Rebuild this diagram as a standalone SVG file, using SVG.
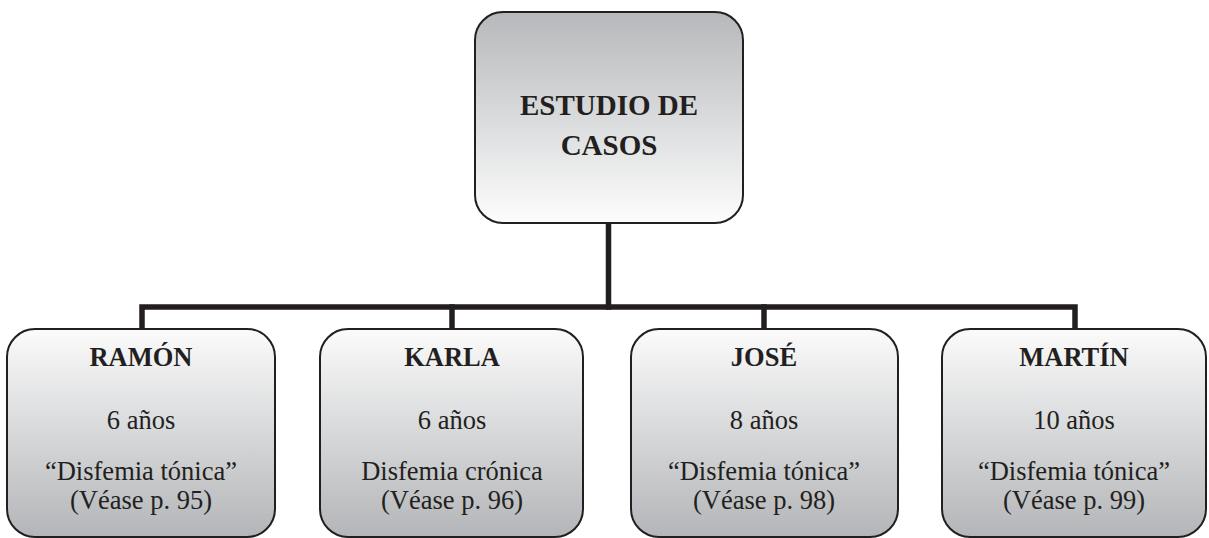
<svg xmlns="http://www.w3.org/2000/svg" width="1209" height="538" viewBox="0 0 1209 538">
<defs>
<linearGradient id="gTop" x1="0" y1="0" x2="0" y2="1">
<stop offset="0" stop-color="#b6b8bb"/>
<stop offset="1" stop-color="#fdfdfd"/>
</linearGradient>
<linearGradient id="gBot" x1="0" y1="0" x2="0" y2="1">
<stop offset="0" stop-color="#fbfbfb"/>
<stop offset="1" stop-color="#b3b5b8"/>
</linearGradient>
</defs>
<style>
.top{fill:url(#gTop);stroke:#231f20;stroke-width:2}
.box{fill:url(#gBot);stroke:#231f20;stroke-width:2}
.conn{fill:none;stroke:#231f20;stroke-width:5.5;stroke-linecap:square}
text{font-family:"Liberation Serif","Times New Roman",serif;fill:#231f20;text-anchor:middle}
.b{font-weight:bold}
.t{font-size:29px}
.s{font-size:26.5px}
</style>
<rect width="1209" height="538" fill="#ffffff"/>
<g id="connectors">
<path class="conn" d="M608.5 224 V307"/>
<path class="conn" d="M142 328 V307 H1075 V328"/>
<path class="conn" d="M452 307 V328"/>
<path class="conn" d="M764 307 V328"/>
</g>
<g id="node-estudio">
<rect class="top" x="475" y="12" width="268" height="211" rx="28" ry="28"/>
<text class="b t" x="609" y="115">ESTUDIO DE</text>
<text class="b t" x="609" y="155">CASOS</text>
</g>
<g id="node-ramon">
<rect class="box" x="7" y="329" width="268" height="208" rx="28" ry="28"/>
<text class="b s" x="141" y="366">RAMÓN</text>
<text class="s" x="141" y="429">6 años</text>
<text class="s" x="141" y="480">“Disfemia tónica”</text>
<text class="s" x="141" y="509">(Véase p. 95)</text>
</g>
<g id="node-karla">
<rect class="box" x="320" y="329" width="263" height="208" rx="28" ry="28"/>
<text class="b s" x="452" y="366">KARLA</text>
<text class="s" x="452" y="429">6 años</text>
<text class="s" x="452" y="480">Disfemia crónica</text>
<text class="s" x="452" y="509">(Véase p. 96)</text>
</g>
<g id="node-jose">
<rect class="box" x="631" y="329" width="267" height="208" rx="28" ry="28"/>
<text class="b s" x="764" y="366">JOSÉ</text>
<text class="s" x="764" y="429">8 años</text>
<text class="s" x="764" y="480">“Disfemia tónica”</text>
<text class="s" x="764" y="509">(Véase p. 98)</text>
</g>
<g id="node-martin">
<rect class="box" x="942" y="329" width="264" height="208" rx="28" ry="28"/>
<text class="b s" x="1074" y="366">MARTÍN</text>
<text class="s" x="1074" y="429">10 años</text>
<text class="s" x="1074" y="480">“Disfemia tónica”</text>
<text class="s" x="1074" y="509">(Véase p. 99)</text>
</g>
</svg>
